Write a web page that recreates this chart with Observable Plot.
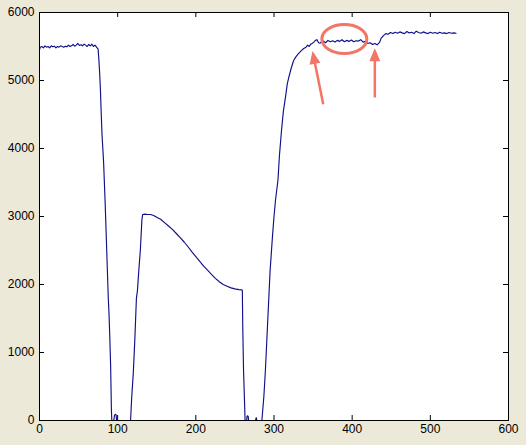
<!DOCTYPE html>
<html>
<head>
<meta charset="utf-8">
<script src="https://cdn.jsdelivr.net/npm/d3@7"></script>
<script src="https://cdn.jsdelivr.net/npm/@observablehq/plot@0.6"></script>
<style>
  html, body { margin: 0; padding: 0; background: #ECE9D8; }
  #chart { width: 526px; height: 445px; }
</style>
</head>
<body>
<div id="chart"></div>
<script>
// Signal samples
const sampleX = [
  0, 1, 3, 5, 7, 9, 11, 13, 15, 17, 19, 21, 23, 25, 27, 29, 31, 33, 35, 37, 39, 41, 43, 45, 47, 49,
  51, 53, 55, 57, 59, 61, 63, 65, 67, 69, 71, 73,
  75, 76, 77, 78, 79, 80, 81, 82, 84, 86, 88, 89, 90, 91, 92, 92.5,
  95, 96, 97, 98, 98.6, 99, 116.5,
  118, 120, 122, 124, 125.3, 127, 129, 131, 132, 135, 138, 142,
  146, 150, 155, 160, 165, 170, 175, 180, 185, 190, 195, 200, 205, 210, 215, 220, 225, 230, 235, 240,
  245, 250, 255, 259,
  259.5, 260, 261, 262.5, 263, 265, 265.5, 266, 267, 267.5, 268, 276.5, 277, 277.5, 278, 284.5,
  287, 289, 292, 295, 298, 300, 302, 305, 307, 309.6, 312, 314.7, 317, 319, 322, 325, 327.5, 331, 335,
  338, 341, 343, 345, 347, 349, 351, 353, 355, 357, 359,
  361, 363, 366, 369, 372, 375, 378, 381, 384, 387, 390, 393, 396, 399, 402, 405, 408, 411, 414, 417,
  420, 423, 426, 429, 432, 435, 437, 440, 443, 446, 449, 452, 455, 458, 461, 464, 467, 470, 473, 476,
  479, 482, 485, 488, 491, 494, 497, 500, 503, 506, 509, 512, 515, 518, 521, 524, 527, 530, 533
];
const sampleY = [
  5450, 5490, 5500, 5480, 5510, 5490, 5500, 5480, 5510, 5495, 5505, 5480, 5500, 5490, 5510, 5500, 5490, 5505, 5495, 5520, 5500, 5510, 5530, 5505, 5520, 5545,
  5515, 5525, 5510, 5535, 5520, 5500, 5530, 5510, 5535, 5500, 5520, 5490,
  5460, 5300, 5100, 4850, 4500, 4200, 4000, 3800, 3200, 2500, 1800, 1550, 1200, 800, 150, 0,
  0, 80, 90, 85, 0, 0, 0,
  350, 700, 1200, 1800, 1910, 2200, 2500, 2950, 3030, 3035, 3030, 3030,
  3015, 2990, 2960, 2910, 2860, 2810, 2750, 2690, 2625, 2555, 2480, 2410, 2340, 2270, 2210, 2150, 2090, 2040, 2000, 1975,
  1950, 1935, 1925, 1920,
  1910, 1400, 750, 200, 0, 0, 60, 70, 60, 0, 0, 0, 40, 40, 0, 0,
  350, 735, 1470, 2200, 2700, 3000, 3250, 3530, 3900, 4265, 4550, 4755, 4950, 5050, 5180, 5290, 5340, 5390, 5440,
  5470, 5490, 5520, 5500, 5535, 5545, 5565, 5590, 5600, 5555, 5550,
  5570, 5580, 5555, 5590, 5570, 5585, 5565, 5590, 5575, 5600, 5570, 5590, 5575, 5595, 5570, 5585, 5580, 5600, 5565, 5575,
  5545, 5555, 5530, 5545, 5525, 5560, 5620, 5660, 5690, 5680, 5705, 5690, 5710, 5695, 5715, 5700, 5690, 5720, 5700, 5710,
  5690, 5725, 5705, 5695, 5715, 5700, 5690, 5710, 5695, 5705, 5690, 5710, 5695, 5700, 5690, 5705, 5695, 5700, 5695
];

const xTicks = [0, 100, 200, 300, 400, 500, 600];
const yTicks = [0, 1000, 2000, 3000, 4000, 5000, 6000];

// Annotations (red ellipse and two arrows)
const ellipseX = [390];
const ellipseY = [5610];
const arrowTailX = [363, 429];
const arrowTailY = [4650, 4750];
const arrowTipX = [350, 429];
const arrowTipY = [5390, 5430];
const arrowAngle = [-11, 0];

const samples = sampleX.map((x, i) => ({x, y: sampleY[i]}));
const ellipses = ellipseX.map((x, i) => ({x, y: ellipseY[i]}));
const arrows = arrowTailX.map((x, i) => ({
  x1: x, y1: arrowTailY[i], x2: arrowTipX[i], y2: arrowTipY[i], angle: arrowAngle[i]
}));

const annotColor = "#F27565";

// custom symbols
const ellipseSymbol = {
  draw(ctx) {
    const rx = 22.5, ry = 14.5, k = 0.5523;
    ctx.moveTo(rx, 0);
    ctx.bezierCurveTo(rx, ry * k, rx * k, ry, 0, ry);
    ctx.bezierCurveTo(-rx * k, ry, -rx, ry * k, -rx, 0);
    ctx.bezierCurveTo(-rx, -ry * k, -rx * k, -ry, 0, -ry);
    ctx.bezierCurveTo(rx * k, -ry, rx, -ry * k, rx, 0);
    ctx.closePath();
  }
};
const headSymbol = {
  draw(ctx) {
    ctx.moveTo(0, -3);
    ctx.lineTo(-5.5, 10);
    ctx.lineTo(5.5, 10);
    ctx.closePath();
  }
};

const W = 526, H = 445, mL = 39, mR = 18, mT = 12, mB = 25;
const innerW = W - mL - mR, innerH = H - mT - mB, tick = 5;

const chart = Plot.plot({
  width: W, height: H,
  marginLeft: mL, marginRight: mR, marginTop: mT, marginBottom: mB,
  style: {background: "#ECE9D8", fontFamily: "'Liberation Sans', Arial, sans-serif", fontSize: "12px", color: "black"},
  x: {domain: [0, 600]},
  y: {domain: [0, 6000]},
  marks: [
    Plot.frame({fill: "white", stroke: null}),
    Plot.line(samples, {x: "x", y: "y", stroke: "#10108a", strokeWidth: 1.15}),
    // inward ticks on all four sides
    Plot.ruleX(xTicks, {x: d => d, insetTop: innerH - tick, stroke: "black"}),
    Plot.ruleX(xTicks, {x: d => d, insetBottom: innerH - tick, stroke: "black"}),
    Plot.ruleY(yTicks, {y: d => d, insetRight: innerW - tick, stroke: "black"}),
    Plot.ruleY(yTicks, {y: d => d, insetLeft: innerW - tick, stroke: "black"}),
    Plot.axisX(xTicks, {anchor: "bottom", tickSize: 0, tickPadding: 4, label: null, tickFormat: d => String(d)}),
    Plot.axisY(yTicks, {anchor: "left", tickSize: 0, tickPadding: 5, label: null, tickFormat: d => String(d)}),
    Plot.frame({stroke: "black", strokeWidth: 1}),
    // annotations
    Plot.dot(ellipses, {x: "x", y: "y", symbol: ellipseSymbol, r: 10, stroke: annotColor, fill: "none", strokeWidth: 3}),
    Plot.link(arrows, {x1: "x1", y1: "y1", x2: "x2", y2: "y2", stroke: annotColor, strokeWidth: 2.5}),
    Plot.dot(arrows, {x: "x2", y: "y2", symbol: headSymbol, rotate: "angle", r: 6, fill: annotColor, stroke: "none"})
  ]
});
document.getElementById("chart").append(chart);
</script>
</body>
</html>
